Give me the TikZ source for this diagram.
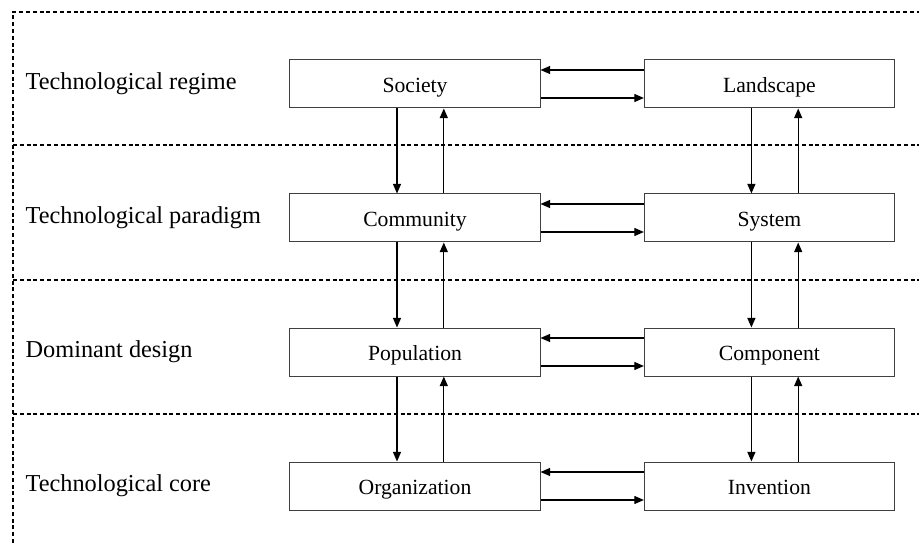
\documentclass[tikz,border=0pt]{standalone}
\usepackage{fontspec}
\setmainfont{Liberation Serif}
\usetikzlibrary{arrows.meta}

\begin{document}
\begin{tikzpicture}[x=0.25mm, y=-0.25mm, ->, >={Triangle[length=2.4mm,width=2mm]},
  line width=0.32mm, node distance=3.35cm,
  box/.style={rectangle, draw=black!75, line width=0.25mm, fill=white,
    minimum width=62.5mm, minimum height=12mm, text height=12.5pt, text depth=0.5pt,
    font=\fontsize{15.4}{18}\selectfont},
  level/.style={anchor=west, inner sep=0pt, text height=10pt, text depth=1.5pt,
    font=\fontsize{17.3}{20}\selectfont},
  sep/.style={-, dash pattern=on 1mm off 0.7mm, line width=0.28mm}]

  \useasboundingbox (0,0) rectangle (919,543);

  % dashed frame and the level separators
  \coordinate (tl) at (13,12);
  \coordinate (bl) at (13,543);
  \coordinate (tr) at (919,12);
  \draw[sep] (bl) -- (tl) -- (tr);
  \foreach \y in {145,280,414}
    \draw[sep] (13,\y) -- (919,\y);

  \node[level] (regime)   at (25,84)  {Technological regime};
  \node[level] (paradigm) at (25,218) {Technological paradigm};
  \node[level] (design)   at (25,352) {Dominant design};
  \node[level] (core)     at (25,486) {Technological core};

  \node[box] (society) at (415,84) {Society};
  \node[box] (community)    [below of=society]    {Community};
  \node[box] (population)   [below of=community]  {Population};
  \node[box] (organization) [below of=population] {Organization};
  \node[box] (landscape) [right of=society, node distance=8.86cm] {Landscape};
  \node[box] (system)    [below of=landscape] {System};
  \node[box] (component) [below of=system]    {Component};
  \node[box] (invention) [below of=component] {Invention};

  % links inside one level
  \foreach \l/\r in {society/landscape, community/system,
                     population/component, organization/invention} {
    \draw ([yshift=3.5mm]\r.west) -- ([yshift=3.5mm]\l.east);
    \draw ([yshift=-3.5mm]\l.east) -- ([yshift=-3.5mm]\r.west);
  }

  % links between levels
  \foreach \a/\b in {society/community, community/population,
                     population/organization, landscape/system,
                     system/component, component/invention} {
    \draw ([xshift=-4.5mm]\a.south) -- ([xshift=-4.5mm]\b.north);
    \draw ([xshift=7.2mm]\b.north) -- ([xshift=7.2mm]\a.south);
  }

\end{tikzpicture}
\end{document}
